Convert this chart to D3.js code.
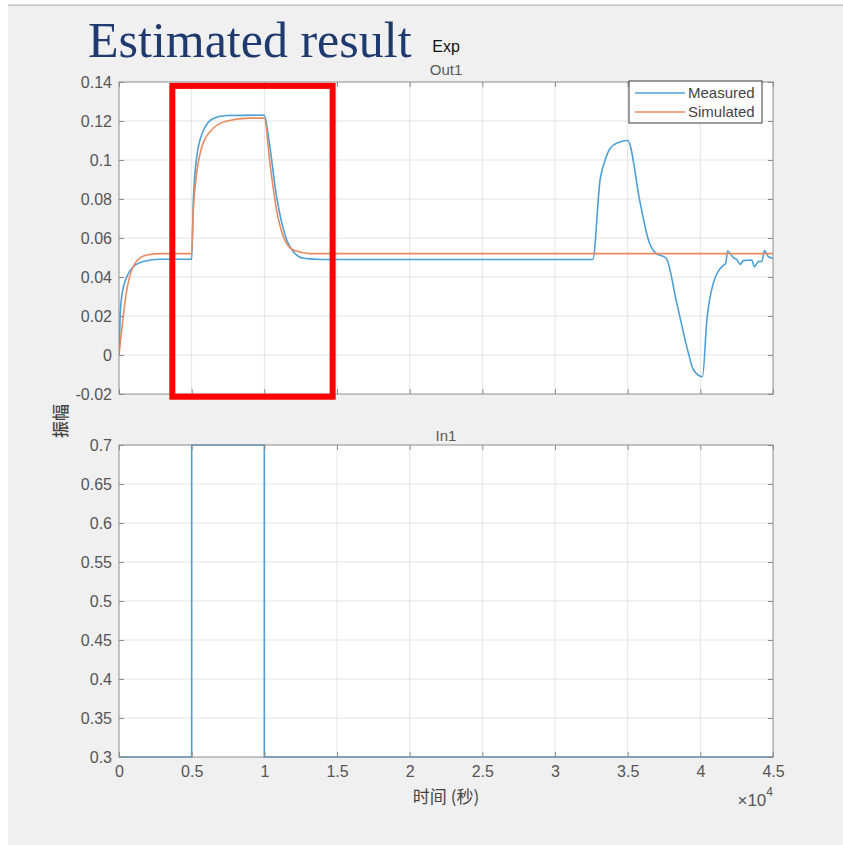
<!DOCTYPE html>
<html>
<head>
<meta charset="utf-8">
<script src="https://cdn.jsdelivr.net/npm/d3@7"></script>
<style>
  body { margin: 0; background: #fff; }
  svg { display: block; }
</style>
</head>
<body>
<svg id="chart" width="843" height="845"></svg>
<script>
// values (time in seconds)
const measuredT = [0, 80, 185, 530, 990, 1670, 2820, 5000, 5110, 5350, 5800, 6490, 7410, 10000,
  10280, 10850, 11540, 12000, 12690, 14000, 32600, 33100, 33450, 33800, 34370, 35000,
  35860, 36430, 36890, 37650, 38380, 39180, 39530, 40150, 40450, 40900, 41590, 41750,
  41870, 42280, 42500, 42740, 42970, 43540, 43720, 44000, 44230, 44410, 44690, 45000];
const measuredY = [0, 0.02, 0.03, 0.040, 0.0453, 0.0479, 0.0491, 0.0491, 0.078, 0.1017, 0.115, 0.1213, 0.1228, 0.123,
  0.112, 0.081, 0.059, 0.053, 0.0496, 0.049, 0.049, 0.0897, 0.100, 0.106, 0.109, 0.110,
  0.078, 0.059, 0.0525, 0.0496, 0.0266, 0.001, -0.0077, -0.0111, 0.018, 0.037, 0.046, 0.047,
  0.0533, 0.0499, 0.049, 0.0465, 0.0484, 0.0487, 0.0453, 0.0479, 0.048, 0.0535, 0.0504, 0.0496];

const simulatedT = [0, 530, 1100, 1900, 3000, 5000, 5110, 5570, 6260, 7410, 9000, 10000,
  10390, 10850, 11310, 12000, 13150, 45000];
const simulatedY = [0, 0.033, 0.047, 0.0513, 0.052, 0.052, 0.074, 0.103, 0.1145, 0.120, 0.1215, 0.1215,
  0.098, 0.074, 0.0607, 0.0538, 0.052, 0.052];

const inputT = [0, 5000, 5000, 10000, 10000, 45000];
const inputY = [0.3, 0.3, 0.7, 0.7, 0.3, 0.3];

const xTicks = [0, 5000, 10000, 15000, 20000, 25000, 30000, 35000, 40000, 45000];
const topTicks = [-0.02, 0, 0.02, 0.04, 0.06, 0.08, 0.1, 0.12, 0.14];
const bottomTicks = [0.3, 0.35, 0.4, 0.45, 0.5, 0.55, 0.6, 0.65, 0.7];
const seriesNames = ['Measured', 'Simulated'];
const seriesColors = ['#4d9fd8', '#ea8a60'];
// highlighted region (red box) in data units
const boxRange = { t0: 3670, t1: 14700, y0: -0.0214, y1: 0.138 };

const svg = d3.select('#chart');
const left = 119, right = 773;
const tickFont = '16px "Liberation Sans", Arial, sans-serif';

const x = d3.scaleLinear().domain([0, 45000]).range([left, right]);
const yTop = d3.scaleLinear().domain([-0.02, 0.14]).range([394, 82]);
const yBot = d3.scaleLinear().domain([0.3, 0.7]).range([757, 445]);

// background panel
svg.append('rect').attr('x', 8).attr('y', 5).attr('width', 835).attr('height', 840).attr('fill', '#f0f0f0');
svg.append('line').attr('x1', 8).attr('x2', 843).attr('y1', 5).attr('y2', 5)
  .attr('stroke', '#c4c4c4').attr('stroke-width', 1.5);

const fmt = (d) => String(+d.toFixed(3));

function drawAxes(y, ticks, clipId, title, titleY) {
  const top = y.range()[1], bottom = y.range()[0];

  svg.append('rect').attr('x', left).attr('y', top)
    .attr('width', right - left).attr('height', bottom - top).attr('fill', '#fff');

  svg.append('clipPath').attr('id', clipId).append('rect')
    .attr('x', left).attr('y', top).attr('width', right - left).attr('height', bottom - top);

  // grid
  const grid = svg.append('g').attr('stroke', '#e3e3e3').attr('stroke-width', 1);
  grid.selectAll('.gx').data(xTicks.slice(1, -1)).enter().append('line')
    .attr('x1', (d) => x(d)).attr('x2', (d) => x(d)).attr('y1', top).attr('y2', bottom);
  grid.selectAll('.gy').data(ticks.slice(1, -1)).enter().append('line')
    .attr('x1', left).attr('x2', right).attr('y1', (d) => y(d)).attr('y2', (d) => y(d));

  if (title) {
    svg.append('text').attr('x', (left + right) / 2).attr('y', titleY)
      .attr('text-anchor', 'middle').attr('fill', '#5a5a5a')
      .style('font', '15px "Liberation Sans", Arial, sans-serif').text(title);
  }
}

function drawFrame(y, ticks, showXLabels) {
  const top = y.range()[1], bottom = y.range()[0];
  const style = (g) => {
    g.select('.domain').remove();
    g.selectAll('line').attr('stroke', '#8c8c8c');
    g.selectAll('text').attr('fill', '#555').style('font', tickFont);
  };

  svg.append('g').attr('transform', `translate(${left},0)`)
    .call(d3.axisLeft(y).tickValues(ticks).tickFormat(fmt).tickSizeInner(-5).tickPadding(7))
    .call(style);
  svg.append('g').attr('transform', `translate(${right},0)`)
    .call(d3.axisRight(y).tickValues(ticks).tickFormat('').tickSizeInner(-5))
    .call(style);
  svg.append('g').attr('transform', `translate(0,${bottom})`)
    .call(d3.axisBottom(x).tickValues(xTicks).tickFormat(showXLabels ? (d) => fmt(d / 1e4) : '')
      .tickSizeInner(-5).tickPadding(9))
    .call(style);
  svg.append('g').attr('transform', `translate(0,${top})`)
    .call(d3.axisTop(x).tickValues(xTicks).tickFormat('').tickSizeInner(-5))
    .call(style);

  svg.append('rect').attr('x', left).attr('y', top)
    .attr('width', right - left).attr('height', bottom - top)
    .attr('fill', 'none').attr('stroke', '#8c8c8c').attr('stroke-width', 1);
}

// top plot: Out1
drawAxes(yTop, topTicks, 'clipTop', 'Out1', 75);

const lineTop = d3.line().x((d) => x(d[0])).y((d) => yTop(d[1])).curve(d3.curveMonotoneX);
const measured = measuredT.map((t, i) => [t, measuredY[i]]);
const simulated = simulatedT.map((t, i) => [t, simulatedY[i]]);

[measured, simulated].forEach((pts, i) => {
  svg.append('path').datum(pts)
    .attr('clip-path', 'url(#clipTop)')
    .attr('d', lineTop)
    .attr('fill', 'none')
    .attr('stroke', seriesColors[i])
    .attr('stroke-width', 1.6);
});

drawFrame(yTop, topTicks, false);

// legend
const legend = svg.append('g');
legend.append('rect').attr('x', 629).attr('y', 81).attr('width', 133).attr('height', 42)
  .attr('fill', '#fff').attr('stroke', '#3a3a3a').attr('stroke-width', 1);
seriesNames.forEach((name, i) => {
  const ly = 93 + i * 19;
  legend.append('line').attr('x1', 635).attr('x2', 685).attr('y1', ly).attr('y2', ly)
    .attr('stroke', seriesColors[i]).attr('stroke-width', 1.6);
  legend.append('text').attr('x', 688).attr('y', ly + 5).attr('fill', '#444')
    .style('font', '15px "Liberation Sans", Arial, sans-serif').text(name);
});

// bottom plot: In1
drawAxes(yBot, bottomTicks, 'clipBot', 'In1', 441);

const lineBot = d3.line().x((d) => x(d[0])).y((d) => yBot(d[1]));
svg.append('path').datum(inputT.map((t, i) => [t, inputY[i]]))
  .attr('d', lineBot)
  .attr('fill', 'none')
  .attr('stroke', seriesColors[0])
  .attr('stroke-width', 1.6);

drawFrame(yBot, bottomTicks, true);

// red highlight box
svg.append('rect')
  .attr('x', x(boxRange.t0)).attr('y', yTop(boxRange.y1))
  .attr('width', x(boxRange.t1) - x(boxRange.t0))
  .attr('height', yTop(boxRange.y0) - yTop(boxRange.y1))
  .attr('fill', 'none').attr('stroke', '#ff0000').attr('stroke-width', 6);

// labels
svg.append('text').attr('x', 446).attr('y', 803).attr('text-anchor', 'middle').attr('fill', '#444')
  .style('font', '17px "Noto Sans CJK SC", sans-serif').text('时间 (秒)');

svg.append('text').attr('transform', 'translate(67,421) rotate(-90)').attr('text-anchor', 'middle')
  .attr('fill', '#444').style('font', '500 17px "Noto Sans CJK SC", sans-serif').text('振幅');

const expo = svg.append('text').attr('x', 773).attr('y', 806).attr('text-anchor', 'end').attr('fill', '#555')
  .style('font', '17px "Liberation Sans", Arial, sans-serif');
expo.append('tspan').text('×10');
expo.append('tspan').attr('dy', -10).style('font-size', '12px').text('4');

svg.append('text').attr('x', 446).attr('y', 52).attr('text-anchor', 'middle').attr('fill', '#111')
  .style('font', '16px "Liberation Sans", Arial, sans-serif').text('Exp');

svg.append('text').attr('x', 88).attr('y', 57).attr('fill', '#1f3a6f')
  .style('font', '50px "Liberation Serif", "Times New Roman", serif').text('Estimated result');
</script>
</body>
</html>
